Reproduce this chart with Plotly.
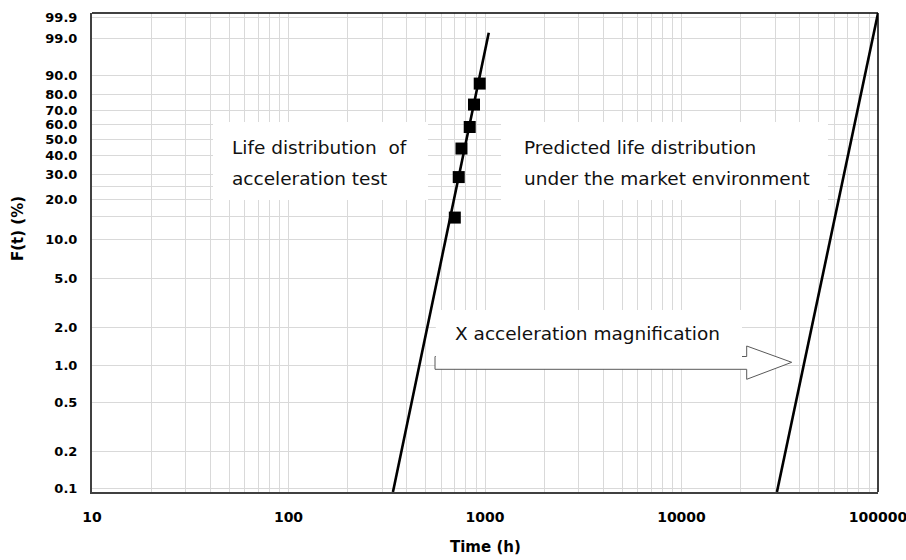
import math
import plotly.graph_objects as go

# ---------------- data ----------------
test_time = [702, 735, 759, 836, 879, 940]          # h
test_F = [14.8, 29.0, 44.3, 58.4, 73.7, 86.2]        # %

accel_line_time = [340, 1045]
accel_line_F = [0.0928, 99.42]

market_line_time = [30600, 100000]
market_line_F = [0.0928, 99.94]

y_tick_F = [99.9, 99.0, 90.0, 80.0, 70.0, 60.0, 50.0, 40.0, 30.0, 20.0, 10.0, 5.0, 2.0, 1.0, 0.5, 0.2, 0.1]
y_tick_text = ["99.9", "99.0", "90.0", "80.0", "70.0", "60.0", "50.0", "40.0", "30.0", "20.0",
               "10.0", "5.0", "2.0", "1.0", "0.5", "0.2", "0.1"]
y_minor_F = [25.0, 15.0]
x_tick_vals = [10, 100, 1000, 10000, 100000]
x_tick_text = ["10", "100", "1000", "10000", "100000"]


def weib(F):
    return math.log(-math.log(1 - F / 100.0))


# ---------------- layout helpers (pixel -> paper) ----------------
W, H = 906, 560
L, R, T, B = 92, 28, 13, 68
PW, PH = W - L - R, H - T - B


def px(x):
    return (x - L) / PW


def py(y):
    return (H - B - y) / PH


fig = go.Figure()

fig.add_trace(go.Scatter(
    x=accel_line_time, y=[weib(f) for f in accel_line_F], mode="lines",
    line=dict(color="black", width=2.6), showlegend=False, hoverinfo="skip"))
fig.add_trace(go.Scatter(
    x=market_line_time, y=[weib(f) for f in market_line_F], mode="lines",
    line=dict(color="black", width=2.6), showlegend=False, hoverinfo="skip"))
fig.add_trace(go.Scatter(
    x=test_time, y=[weib(f) for f in test_F], mode="markers",
    marker=dict(symbol="square", size=12, color="black"), showlegend=False))

minor_x = [m * 10 ** d for d in range(1, 5) for m in range(2, 10)]

grid = "#d9d9d9"
fig.update_xaxes(
    type="log", range=[1, 5], automargin=False,
    tickmode="array", tickvals=x_tick_vals, ticktext=x_tick_text,
    showgrid=True, gridcolor=grid, gridwidth=1,
    minor=dict(tickmode="array", tickvals=minor_x, showgrid=True, gridcolor=grid, gridwidth=1, ticks=""),
    ticks="", showline=True, linecolor="#404040", linewidth=2,
    tickfont=dict(family="DejaVu Sans", size=14, color="black", weight="bold"),
    ticklabelstandoff=11, ticklabeloverflow="allow", zeroline=False,
)
fig.update_yaxes(
    range=[-6.982, 2.008], automargin=False,
    tickmode="array", tickvals=[weib(f) for f in y_tick_F], ticktext=y_tick_text,
    showgrid=True, gridcolor=grid, gridwidth=1,
    minor=dict(tickmode="array", tickvals=[weib(f) for f in y_minor_F], showgrid=True,
               gridcolor=grid, gridwidth=1, ticks=""),
    ticks="", showline=True, linecolor="#404040", linewidth=2,
    tickfont=dict(family="DejaVu Sans", size=13, color="black", weight="bold"),
    ticklabelstandoff=10, ticklabeloverflow="allow", zeroline=False,
)

shapes = []
# white label boxes
for (x0, x1, y0, y1) in [(213, 428, 122, 200), (501, 828, 122, 200)]:
    shapes.append(dict(type="rect", xref="paper", yref="paper",
                       x0=px(x0), x1=px(x1), y0=py(y1), y1=py(y0),
                       fillcolor="white", line=dict(width=0), layer="above"))
# block arrow
pts = [(435, 356.5), (746.7, 356.5), (746.7, 346), (791.7, 362.3), (746.7, 379.3),
       (746.7, 369.3), (435, 369.3)]
path = "M " + " L ".join(f"{px(a):.5f},{py(b):.5f}" for a, b in pts) + " Z"
shapes.append(dict(type="path", xref="paper", yref="paper", path=path,
                   fillcolor="white", line=dict(color="#595959", width=1), layer="above"))
shapes.append(dict(type="rect", xref="paper", yref="paper",
                   x0=px(435.8), x1=px(742), y0=py(357.3), y1=py(310),
                   fillcolor="white", line=dict(width=0), layer="above"))
# top and right frame
shapes.append(dict(type="line", xref="paper", yref="paper", x0=0, x1=1, y0=1, y1=1,
                   line=dict(color="black", width=1.5), layer="above"))
shapes.append(dict(type="line", xref="paper", yref="paper", x0=1, x1=1, y0=0, y1=1,
                   line=dict(color="black", width=1.5), layer="above"))

txtfont = dict(family="DejaVu Sans", size=18.5, color="#111111")
annotations = []
for text, x, y in [("Life distribution\u00a0 of", 230, 147), ("acceleration test", 230, 178),
                   ("Predicted life distribution", 522, 147), ("under the market environment", 522, 178),
                   ("X acceleration magnification", 453, 333)]:
    annotations.append(dict(text=text, xref="paper", yref="paper", x=px(x), y=py(y),
                            xanchor="left", yanchor="middle", showarrow=False, font=txtfont))
annotations.append(dict(text="<b>Time (h)</b>", xref="paper", yref="paper", x=px(485), y=py(547),
                        xanchor="center", yanchor="middle", showarrow=False,
                        font=dict(family="DejaVu Sans", size=15, color="black")))
annotations.append(dict(text="<b>F(t) (%)</b>", xref="paper", yref="paper", x=px(18), y=py(229),
                        xanchor="center", yanchor="middle", showarrow=False, textangle=-90,
                        font=dict(family="DejaVu Sans", size=15, color="black")))

fig.update_layout(
    width=W, height=H, margin=dict(l=L, r=R, t=T, b=B, pad=0, autoexpand=False),
    paper_bgcolor="white", plot_bgcolor="white",
    shapes=shapes, annotations=annotations, showlegend=False,
)

fig.write_html("out.html")
